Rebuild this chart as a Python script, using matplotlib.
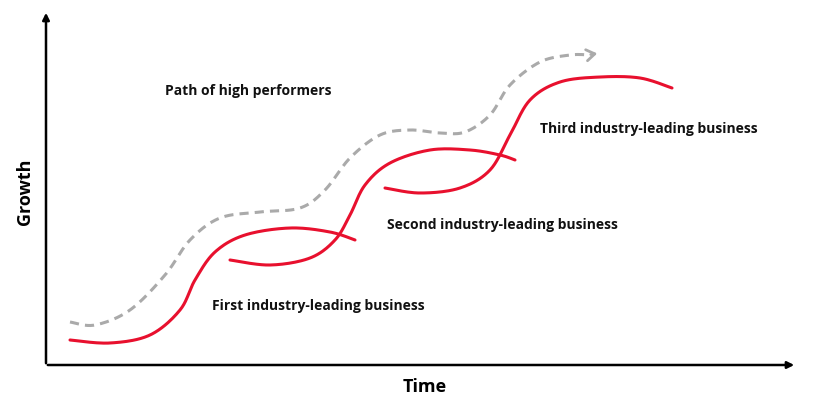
import numpy as np
import matplotlib
matplotlib.use("Agg")
import matplotlib.pyplot as plt

# control points (pixel coords of the reference, y downwards)
first_x = [70,110,150,180,195,215,245,290,330,355]
first_y = [340,343,335,310,280,252,235,228,232,240]
second_x = [230,270,310,335,350,365,390,430,470,500,515]
second_y = [260,265,258,240,215,185,163,150,150,155,160]
third_x = [385,420,460,490,510,530,560,600,640,672]
third_y = [188,193,188,170,135,100,82,77,78,88]
path_x = [70,95,130,165,190,220,260,300,325,350,380,410,440,465,490,510,540,570,590]
path_y = [322,325,310,275,240,218,212,208,190,158,135,130,133,132,115,85,62,55,55]

labels = ["Path of high performers", "First industry-leading business",
          "Second industry-leading business", "Third industry-leading business"]
label_pos = [(165,91), (212,306), (387,225), (540,129)]

def smooth(xs, ys, n=20):
    p = np.column_stack([xs, ys]).astype(float)
    p = np.vstack([p[0], p, p[-1]])
    out = []
    for i in range(1, len(p)-2):
        p0, p1, p2, p3 = p[i-1], p[i], p[i+1], p[i+2]
        t = np.linspace(0, 1, n, endpoint=False)[:, None]
        out.append(0.5*((2*p1) + (-p0+p2)*t + (2*p0-5*p1+4*p2-p3)*t**2 + (-p0+3*p1-3*p2+p3)*t**3))
    out.append(p[-2][None])
    a = np.vstack(out)
    return a[:,0], a[:,1]

plt.rcParams['font.family'] = ['Open Sans', 'DejaVu Sans']
fig = plt.figure(figsize=(8.38,4.08), dpi=100)
ax = fig.add_axes([0,0,1,1])
ax.set_xlim(0,838); ax.set_ylim(408,0); ax.axis('off')

red = '#e8102e'
for xs, ys in [(first_x,first_y),(second_x,second_y),(third_x,third_y)]:
    sx, sy = smooth(xs, ys)
    ax.plot(sx, sy, color=red, lw=2.2, solid_capstyle='round')
sx, sy = smooth(path_x, path_y)
ax.plot(sx, sy, color='#aaaaaa', lw=2.2, dashes=(3,2))
ax.annotate('', xy=(600,53), xytext=(588,55),
            arrowprops=dict(arrowstyle='->,head_length=0.6,head_width=0.4', color='#aaaaaa', lw=2))

ax.annotate('', xy=(46,10), xytext=(46,366), arrowprops=dict(arrowstyle='-|>', color='black', lw=1.8))
ax.annotate('', xy=(797,365), xytext=(45,365), arrowprops=dict(arrowstyle='-|>', color='black', lw=1.8))
ax.text(25,192,'Growth',rotation=90,ha='center',va='center',fontsize=13,fontweight='bold')
ax.text(425,387,'Time',ha='center',va='center',fontsize=13,fontweight='bold')
for s,(x,y) in zip(labels,label_pos):
    ax.text(x,y,s,ha='left',va='center',fontsize=10,fontweight='bold',color='#111111')
fig.savefig('out.png', dpi=100)
